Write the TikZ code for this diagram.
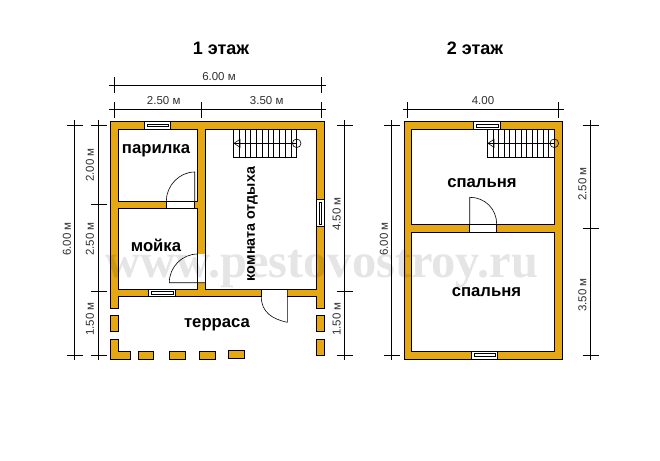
\documentclass[tikz,border=0pt]{standalone}
\usepackage{fontspec}
\setmainfont{Liberation Sans}
\newfontfamily\markfont{Liberation Serif}
\usepackage{tikz}
\definecolor{walls}{HTML}{E5A812}
\definecolor{dimgray}{HTML}{303030}

\begin{document}
\begin{tikzpicture}[x=1pt,y=-1pt,
    wall/.style={draw=black,line width=0.7pt,fill=walls},
    room/.style={draw=black,line width=0.7pt,fill=white},
    opening/.style={fill=white},
    thin line/.style={draw=black,line width=0.6pt},
    dim/.style={draw=black,line width=0.6pt},
    title/.style={font=\fontsize{18}{18}\selectfont\bfseries},
    roomlabel/.style={font=\fontsize{16.7}{17}\selectfont\bfseries},
    dimlabel/.style={text=dimgray,font=\fontsize{11.5}{12}\selectfont},
    dimup/.style={dimlabel,rotate=90}]
  \useasboundingbox (0,0) rectangle (660,460);

  %% titles
  \node[title] (titleone) at (221,48) {1 этаж};
  \node[title] (titletwo) at (475,48) {2 этаж};

  %% floor 1
  % outer walls
  \draw[wall] (110.3,121) -- (324.3,121) -- (324.3,308.7) -- (316.3,308.7) -- (316.3,296.7)
    -- (118.3,296.7) -- (118.3,308.7) -- (110.3,308.7) -- cycle;
  % rooms
  \draw[room] (118.3,129.3) rectangle (197.7,201);
  \draw[room] (118.3,208.3) rectangle (197.7,289);
  \draw[room] (205.7,129.3) rectangle (316.3,289);
  % terrace posts
  \draw[wall] (110.3,315.3) rectangle (118.3,331.3);
  \draw[wall] (110.3,339.3) -- (118.3,339.3) -- (118.3,351.3) -- (130.7,351.3) -- (130.7,359.3) -- (110.3,359.3) -- cycle;
  \draw[wall] (138.3,351.3) rectangle (153.7,359.3);
  \draw[wall] (169.3,351.3) rectangle (185.7,359.3);
  \draw[wall] (199.3,351.3) rectangle (215.5,359.3);
  \draw[wall] (228.3,350.3) rectangle (244.7,358.3);
  \draw[wall] (316.3,315.3) rectangle (324.3,331.3);
  \draw[wall] (316.3,339.3) rectangle (324.3,355.7);
  % windows
  \draw[room] (144.3,121) rectangle (170.7,129.3);
  \draw[thin line] (147,123.8) rectangle (168,126.5);
  \draw[room] (148.3,289) rectangle (175.7,296.7);
  \draw[thin line] (151,291.5) rectangle (173,294.2);
  \draw[room] (316.3,199) rectangle (324.3,226.7);
  \draw[thin line] (319,202) rectangle (321.7,224);
  % door of the steam room
  \draw[room] (166.3,201) rectangle (194.7,208.3);
  \draw[thin line] (194.7,201) -- (194.7,172) .. controls (179,172) and (166.3,186) .. (166.3,201);
  % door of the wash room
  \fill[opening] (197.3,254) rectangle (206.1,282.7);
  \draw[thin line] (197.7,254) -- (197.7,282.7);
  \draw[thin line] (205.7,254) -- (205.7,282.7);
  \draw[thin line] (205.7,282.7) -- (169.3,282.7) .. controls (169.3,267) and (182,254) .. (197.7,254);
  % door to the terrace
  \fill[opening] (261.3,288.6) rectangle (287.3,297.1);
  \draw[thin line] (261.3,289) -- (287.3,289);
  \draw[thin line] (261.3,289) -- (261.3,296.7);
  \draw[thin line] (287.3,289) -- (287.3,322.3) .. controls (272,319) and (261.3,312) .. (261.3,296.7);
  % stairs
  \draw[thin line] (233.3,129.3) rectangle (296.7,157.3);
  \draw[thin line] (239.1,129.3) -- (239.1,157.3);
  \draw[thin line] (244.8,129.3) -- (244.8,157.3);
  \draw[thin line] (250.6,129.3) -- (250.6,157.3);
  \draw[thin line] (256.4,129.3) -- (256.4,157.3);
  \draw[thin line] (262.1,129.3) -- (262.1,157.3);
  \draw[thin line] (267.9,129.3) -- (267.9,157.3);
  \draw[thin line] (273.7,129.3) -- (273.7,157.3);
  \draw[thin line] (279.4,129.3) -- (279.4,157.3);
  \draw[thin line] (285.2,129.3) -- (285.2,157.3);
  \draw[thin line] (291,129.3) -- (291,157.3);
  \draw[thin line] (233.5,143.3) -- (296.7,143.3);
  \draw[thin line] (296.7,143.3) circle [radius=4.3];
  \draw[thin line] (234,143.3) -- (240,139.3) -- (240,147.3) -- cycle;

  % dimensions
  \draw[dim] (109,85) -- (326,85);
  \draw[dim] (114.3,77) -- (114.3,93);
  \draw[dim] (321,77) -- (321,93);
  \node[dimlabel] (widthall) at (219,77) {6.00 м};
  \draw[dim] (109,109) -- (326,109);
  \draw[dim] (114.3,102) -- (114.3,118);
  \draw[dim] (201.3,102) -- (201.3,118);
  \draw[dim] (321,102) -- (321,118);
  \node[dimlabel] (widthleft) at (163.7,101) {2.50 м};
  \node[dimlabel] (widthright) at (266.7,101) {3.50 м};
  \draw[dim] (74.7,120) -- (74.7,360);
  \draw[dim] (67,125) -- (82.7,125);
  \draw[dim] (67,355.3) -- (82.7,355.3);
  \node[dimup] (depthall) at (67,239) {6.00 м};
  \draw[dim] (98.3,120) -- (98.3,360);
  \draw[dim] (91,125) -- (106.7,125);
  \draw[dim] (91,204.3) -- (106.7,204.3);
  \draw[dim] (91,291.7) -- (106.7,291.7);
  \draw[dim] (91,355.3) -- (106.7,355.3);
  \node[dimup] (depthone) at (90,165) {2.00 м};
  \node[dimup] (depthtwo) at (90,239) {2.50 м};
  \node[dimup] (depththree) at (90,319) {1.50 м};
  \draw[dim] (344.3,120) -- (344.3,360);
  \draw[dim] (336.7,125) -- (352.7,125);
  \draw[dim] (336.7,291.7) -- (352.7,291.7);
  \draw[dim] (336.7,355.3) -- (352.7,355.3);
  \node[dimup] (depthmain) at (336.7,214) {4.50 м};
  \node[dimup] (depthporch) at (336.7,319) {1.50 м};

  %% floor 2
  % walls and rooms
  \draw[wall] (404.3,121.7) rectangle (562.3,359);
  \draw[room] (411.3,129.3) rectangle (554.3,224.3);
  \draw[room] (411.3,232.3) rectangle (554.3,351);
  % windows
  \draw[room] (473.3,121.7) rectangle (500.7,129.3);
  \draw[thin line] (476,124.2) rectangle (498,126.9);
  \draw[room] (471.3,351) rectangle (497.7,359);
  \draw[thin line] (474,353.7) rectangle (495,356.3);
  % door
  \draw[room] (469.7,224.3) rectangle (496.7,232.3);
  \draw[thin line] (469.7,224.3) -- (469.7,197.3) .. controls (485,197.3) and (496.7,209) .. (496.7,224.3);
  % stairs
  \draw[thin line] (487.3,129.3) rectangle (554.3,157.7);
  \draw[thin line] (492.9,129.3) -- (492.9,157.7);
  \draw[thin line] (498.5,129.3) -- (498.5,157.7);
  \draw[thin line] (504,129.3) -- (504,157.7);
  \draw[thin line] (509.6,129.3) -- (509.6,157.7);
  \draw[thin line] (515.2,129.3) -- (515.2,157.7);
  \draw[thin line] (520.8,129.3) -- (520.8,157.7);
  \draw[thin line] (526.4,129.3) -- (526.4,157.7);
  \draw[thin line] (532,129.3) -- (532,157.7);
  \draw[thin line] (537.5,129.3) -- (537.5,157.7);
  \draw[thin line] (543.1,129.3) -- (543.1,157.7);
  \draw[thin line] (548.7,129.3) -- (548.7,157.7);
  \draw[thin line] (487.5,143.3) -- (554.3,143.3);
  \draw[thin line] (554.3,143.3) circle [radius=4.3];
  \draw[thin line] (488,143.3) -- (494,139.3) -- (494,147.3) -- cycle;

  % dimensions
  \draw[dim] (403,109.3) -- (564,109.3);
  \draw[dim] (407.7,102) -- (407.7,118);
  \draw[dim] (558.7,102) -- (558.7,118);
  \node[dimlabel] (widthtop) at (483,100.7) {4.00};
  \draw[dim] (391.7,120) -- (391.7,360);
  \draw[dim] (384.3,125) -- (400,125);
  \draw[dim] (384.3,355.3) -- (400,355.3);
  \node[dimup] (depthfull) at (384,239) {6.00 м};
  \draw[dim] (590.7,120) -- (590.7,360);
  \draw[dim] (582.7,125) -- (598.7,125);
  \draw[dim] (582.7,228.3) -- (598.7,228.3);
  \draw[dim] (582.7,355.3) -- (598.7,355.3);
  \node[dimup] (depthbedup) at (582.3,184) {2.50 м};
  \node[dimup] (depthbeddown) at (582.3,295) {3.50 м};

  %% watermark
  \node[text=black,text opacity=0.1,font=\fontsize{48.4}{50}\selectfont\markfont\bfseries] (mark) at (322,269) {www.pestovostroy.ru};

  %% room names
  \node[roomlabel] (steam) at (156,151) {парилка};
  \node[roomlabel] (wash) at (156,245) {мойка};
  \node[roomlabel] (terrace) at (217,325) {терраса};
  \node[roomlabel,rotate=90,font=\fontsize{14.3}{15}\selectfont\bfseries] (lounge) at (252.5,224) {комната отдыха};
  \node[roomlabel] (bedup) at (482,183) {спальня};
  \node[roomlabel] (beddown) at (486.5,292) {спальня};
\end{tikzpicture}
\end{document}
